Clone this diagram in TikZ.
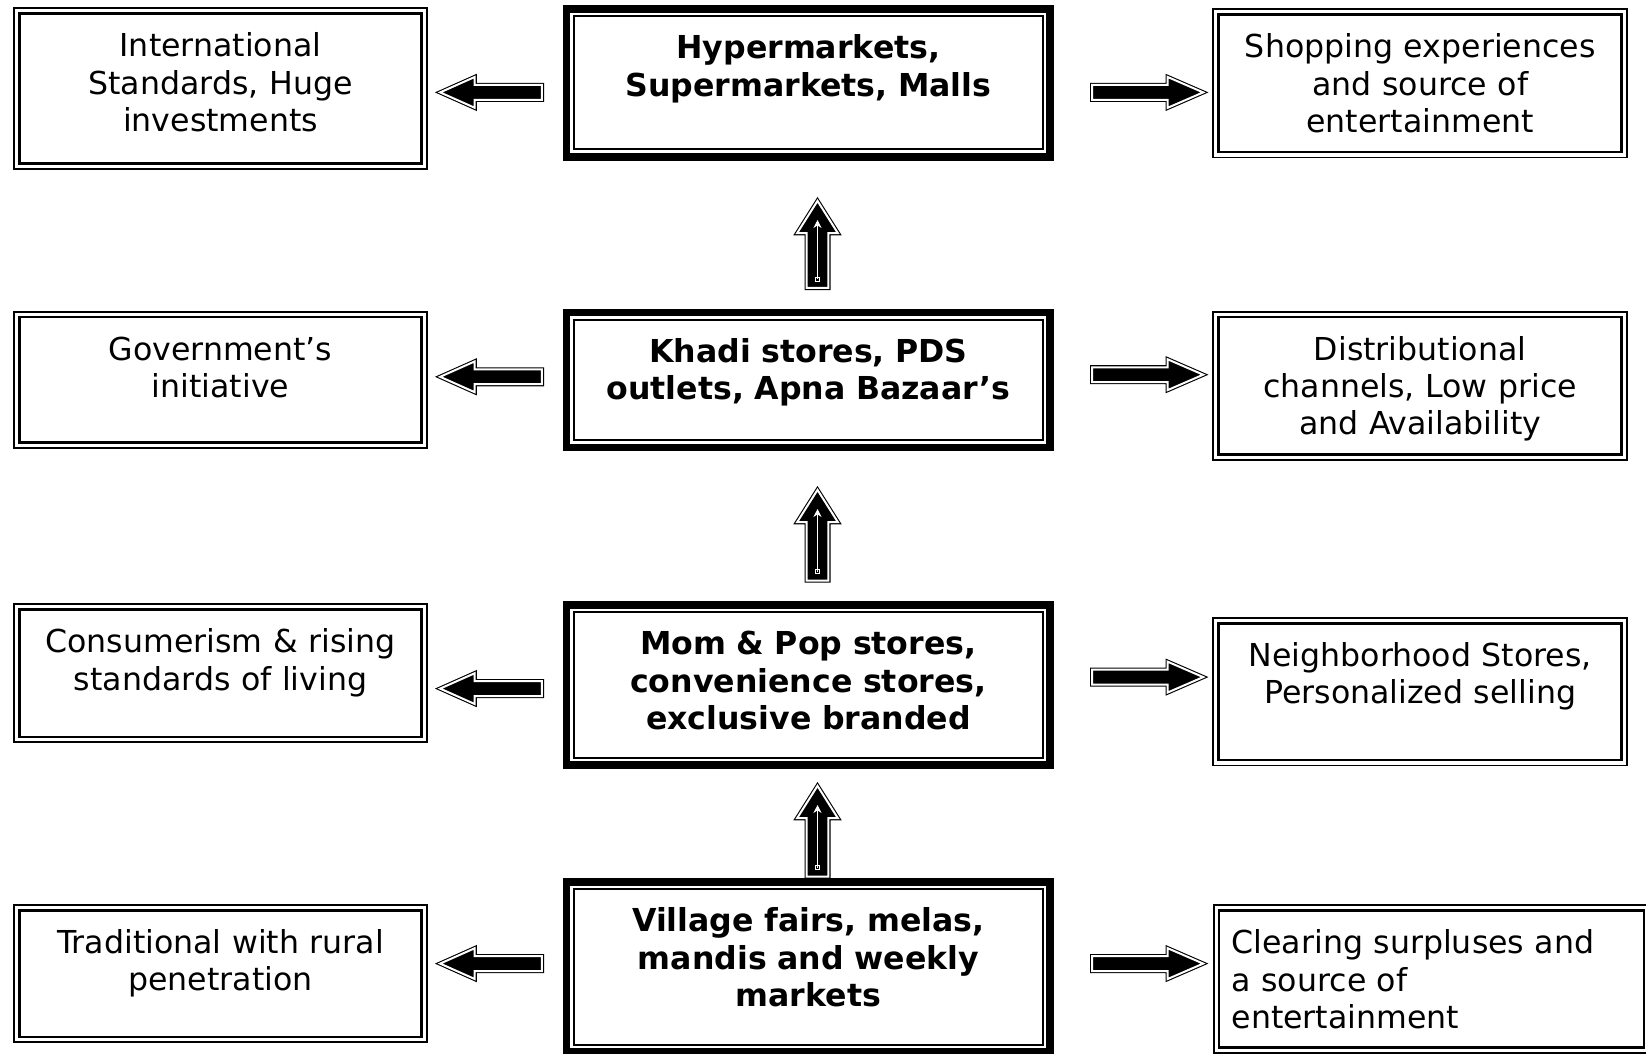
\documentclass[tikz,border=0pt]{standalone}
\usepackage{fontspec}
\setmainfont{DejaVu Sans}
\usetikzlibrary{arrows.meta}

\tikzset{
  sidebox/.style={draw, line width=0.9pt, inner sep=0pt, outer sep=0pt, align=center, text height=24.2pt, anchor=north west},
  midbox/.style={draw, line width=3.9pt, inner sep=0pt, outer sep=0pt, align=center, text height=24.9pt, anchor=north west, font=\fontsize{15.8}{18.7}\selectfont\bfseries},
  sideline/.style={line width=1.3pt},
  midline/.style={line width=1pt},
  blockarrow/.style={draw=black, fill=black, double=white, double distance=1pt, line width=0.55pt, line join=miter},
  innerline/.style={white, line width=0.5pt, -{Stealth[length=4pt, width=4pt]}}
}

\begin{document}
\begin{tikzpicture}[x=0.5pt, y=-0.5pt, every node/.style={font=\fontsize{15.8}{18.7}\selectfont}]
  \useasboundingbox (0,0) rectangle (1646,1054);
  % left column
  \node[sidebox, text width=206.5pt, text depth=56.15pt] (l1) at (14,8.3) {International\\Standards, Huge\\investments};
  \node[sidebox, text width=206.5pt, text depth=44.0pt] (l2) at (14,311.6) {Government’s\\initiative};
  \node[sidebox, text width=206.5pt, text depth=44.8pt] (l3) at (14,604.3) {Consumerism \& rising\\standards of living};
  \node[sidebox, text width=206.5pt, text depth=44.45pt] (l4) at (14,905) {Traditional with rural\\penetration};
  % middle column
  \node[midbox, text width=241.9pt, text depth=49.0pt] (m1) at (566.5,8.9) {Hypermarkets,\\Supermarkets, Malls};
  \node[midbox, text width=241.9pt, text depth=42.6pt] (m2) at (566.5,312.5) {Khadi stores, PDS\\outlets, Apna Bazaar’s};
  \node[midbox, text width=241.9pt, text depth=55.2pt] (m3) at (566.5,604.9) {Mom \& Pop stores,\\convenience stores,\\exclusive branded};
  \node[midbox, text width=241.9pt, text depth=60.15pt] (m4) at (566.5,881.9) {Village fairs, melas,\\mandis and weekly\\markets};
  % right column
  \node[sidebox, text width=206.9pt, text depth=49.95pt] (r1) at (1213.3,9.3) {Shopping experiences\\and source of\\entertainment};
  \node[sidebox, text width=206.9pt, text depth=50.0pt] (r2) at (1213.3,311.6) {Distributional\\channels, Low price\\and Availability};
  \node[sidebox, text width=206.9pt, text depth=49.5pt] (r3) at (1213.3,618) {Neighborhood Stores,\\Personalized selling};
  \node[sidebox, text width=217.95pt, text depth=49.55pt, align=left] (r4) at (1213.6,905.3) {\hspace*{9pt}Clearing surpluses and\\\hspace*{9pt}a source of\\\hspace*{9pt}entertainment};

  % inner frames
  \draw[sideline] ([shift={(2.7pt,2.7pt)}]l1.south west) rectangle ([shift={(-2.7pt,-2.7pt)}]l1.north east);
  \draw[sideline] ([shift={(2.7pt,2.7pt)}]l2.south west) rectangle ([shift={(-2.7pt,-2.7pt)}]l2.north east);
  \draw[sideline] ([shift={(2.7pt,2.7pt)}]l3.south west) rectangle ([shift={(-2.7pt,-2.7pt)}]l3.north east);
  \draw[sideline] ([shift={(2.7pt,2.7pt)}]l4.south west) rectangle ([shift={(-2.7pt,-2.7pt)}]l4.north east);
  \draw[sideline] ([shift={(2.7pt,2.7pt)}]r1.south west) rectangle ([shift={(-2.7pt,-2.7pt)}]r1.north east);
  \draw[sideline] ([shift={(2.7pt,2.7pt)}]r2.south west) rectangle ([shift={(-2.7pt,-2.7pt)}]r2.north east);
  \draw[sideline] ([shift={(2.7pt,2.7pt)}]r3.south west) rectangle ([shift={(-2.7pt,-2.7pt)}]r3.north east);
  \draw[sideline] ([shift={(2.7pt,2.7pt)}]r4.south west) rectangle ([shift={(-2.7pt,-2.7pt)}]r4.north east);
  \draw[midline] ([shift={(3.6pt,3.6pt)}]m1.south west) rectangle ([shift={(-3.6pt,-3.6pt)}]m1.north east);
  \draw[midline] ([shift={(3.6pt,3.6pt)}]m2.south west) rectangle ([shift={(-3.6pt,-3.6pt)}]m2.north east);
  \draw[midline] ([shift={(3.6pt,3.6pt)}]m3.south west) rectangle ([shift={(-3.6pt,-3.6pt)}]m3.north east);
  \draw[midline] ([shift={(3.6pt,3.6pt)}]m4.south west) rectangle ([shift={(-3.6pt,-3.6pt)}]m4.north east);

  % arrows to the left
  \draw[blockarrow] (440.1,92.4) -- ++(34.6,-15.4) -- ++(0,8) -- ++(67.2,0) -- ++(0,14.8) -- ++(-67.2,0) -- ++(0,8) -- cycle;
  \draw[blockarrow] (440.1,376.8) -- ++(34.6,-15.4) -- ++(0,8) -- ++(67.2,0) -- ++(0,14.8) -- ++(-67.2,0) -- ++(0,8) -- cycle;
  \draw[blockarrow] (440.1,688.6) -- ++(34.6,-15.4) -- ++(0,8) -- ++(67.2,0) -- ++(0,14.8) -- ++(-67.2,0) -- ++(0,8) -- cycle;
  \draw[blockarrow] (440.1,963.6) -- ++(34.6,-15.4) -- ++(0,8) -- ++(67.2,0) -- ++(0,14.8) -- ++(-67.2,0) -- ++(0,8) -- cycle;
  % arrows to the right
  \draw[blockarrow] (1203.2,92.4) -- ++(-35.5,-15.4) -- ++(0,8) -- ++(-75.6,0) -- ++(0,14.8) -- ++(75.6,0) -- ++(0,8) -- cycle;
  \draw[blockarrow] (1203.2,374.7) -- ++(-35.5,-15.4) -- ++(0,8) -- ++(-75.6,0) -- ++(0,14.8) -- ++(75.6,0) -- ++(0,8) -- cycle;
  \draw[blockarrow] (1203.2,677.1) -- ++(-35.5,-15.4) -- ++(0,8) -- ++(-75.6,0) -- ++(0,14.8) -- ++(75.6,0) -- ++(0,8) -- cycle;
  \draw[blockarrow] (1203.2,963.6) -- ++(-35.5,-15.4) -- ++(0,8) -- ++(-75.6,0) -- ++(0,14.8) -- ++(75.6,0) -- ++(0,8) -- cycle;
  % arrows upwards
  \draw[blockarrow] (817.5,200.9) -- ++(20.4,32.3) -- ++(-9.5,0) -- ++(0,54.7) -- ++(-21.8,0) -- ++(0,-54.7) -- ++(-9.5,0) -- cycle;
  \draw[blockarrow] (817.5,489.9) -- ++(20.4,32.3) -- ++(-9.5,0) -- ++(0,58.3) -- ++(-21.8,0) -- ++(0,-58.3) -- ++(-9.5,0) -- cycle;
  \draw[blockarrow] (817.5,785.9) -- ++(20.4,32.3) -- ++(-9.5,0) -- ++(0,58.3) -- ++(-21.8,0) -- ++(0,-58.3) -- ++(-9.5,0) -- cycle;
  \draw[innerline] (817.5,279) -- (817.5,220);
  \draw[innerline] (817.5,571.6) -- (817.5,509);
  \draw[innerline] (817.5,867.6) -- (817.5,805);
  \draw[white, line width=0.4pt] (815.5,277) rectangle (819.5,281);
  \draw[white, line width=0.4pt] (815.5,569.6) rectangle (819.5,573.6);
  \draw[white, line width=0.4pt] (815.5,865.6) rectangle (819.5,869.6);
\end{tikzpicture}
\end{document}
